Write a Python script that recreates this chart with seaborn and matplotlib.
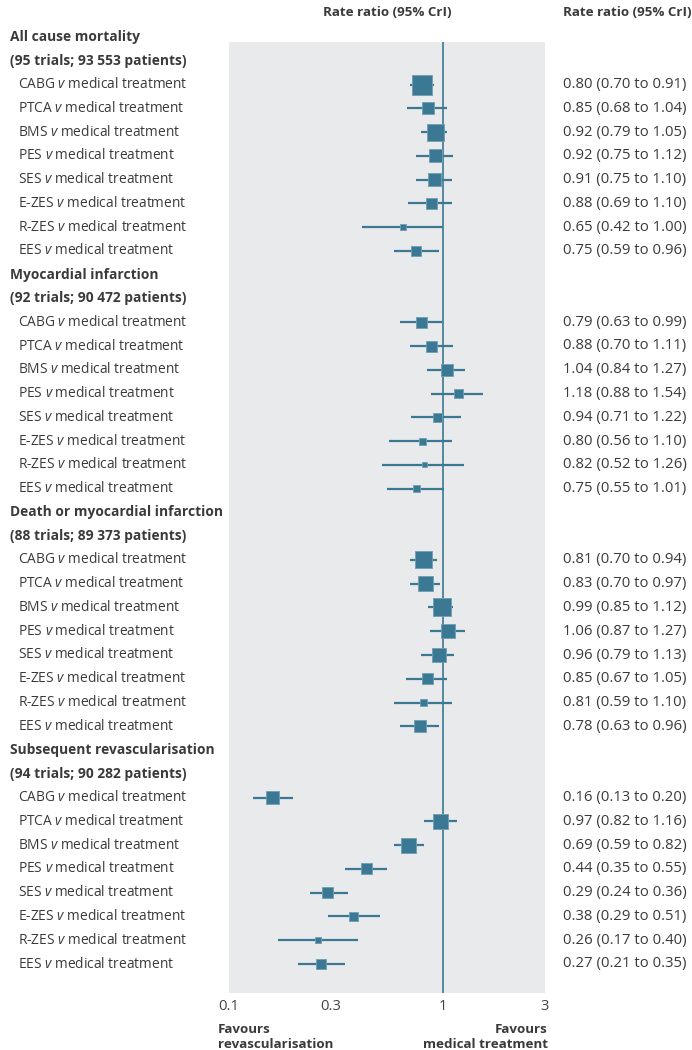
import numpy as np
import pandas as pd
import matplotlib
matplotlib.use('Agg')
import matplotlib.pyplot as plt
import matplotlib.transforms as mtransforms
import seaborn as sns

# ---- data ----
outcomes = ['All cause mortality', 'Myocardial infarction',
            'Death or myocardial infarction', 'Subsequent revascularisation']
outcome_n = ['(95 trials; 93 553 patients)', '(92 trials; 90 472 patients)',
             '(88 trials; 89 373 patients)', '(94 trials; 90 282 patients)']
comparisons = ['CABG', 'PTCA', 'BMS', 'PES', 'SES', 'E-ZES', 'R-ZES', 'EES']

rr_mort = [0.80, 0.85, 0.92, 0.92, 0.91, 0.88, 0.65, 0.75]
lo_mort = [0.70, 0.68, 0.79, 0.75, 0.75, 0.69, 0.42, 0.59]
hi_mort = [0.91, 1.04, 1.05, 1.12, 1.10, 1.10, 1.00, 0.96]

rr_mi = [0.79, 0.88, 1.04, 1.18, 0.94, 0.80, 0.82, 0.75]
lo_mi = [0.63, 0.70, 0.84, 0.88, 0.71, 0.56, 0.52, 0.55]
hi_mi = [0.99, 1.11, 1.27, 1.54, 1.22, 1.10, 1.26, 1.01]

rr_dmi = [0.81, 0.83, 0.99, 1.06, 0.96, 0.85, 0.81, 0.78]
lo_dmi = [0.70, 0.70, 0.85, 0.87, 0.79, 0.67, 0.59, 0.63]
hi_dmi = [0.94, 0.97, 1.12, 1.27, 1.13, 1.05, 1.10, 0.96]

rr_rev = [0.16, 0.97, 0.69, 0.44, 0.29, 0.38, 0.26, 0.27]
lo_rev = [0.13, 0.82, 0.59, 0.35, 0.24, 0.29, 0.17, 0.21]
hi_rev = [0.20, 1.16, 0.82, 0.55, 0.36, 0.51, 0.40, 0.35]

# relative weight of each estimate (box side)
w_mort = [20, 12, 17, 13, 13, 11, 6, 10]
w_mi = [11, 11, 12, 9, 9, 7, 5, 7]
w_dmi = [17, 15, 18, 14, 14, 11, 7, 12]
w_rev = [13, 15, 15, 11, 11, 9, 6, 10]

xticks = [0.1, 0.3, 1, 3]
xtick_labels = ['0.1', '0.3', '1', '3']

# ---- build table ----
rows = []
groups = [(rr_mort, lo_mort, hi_mort, w_mort), (rr_mi, lo_mi, hi_mi, w_mi),
          (rr_dmi, lo_dmi, hi_dmi, w_dmi), (rr_rev, lo_rev, hi_rev, w_rev)]
pos = 0
headers = []
for g, (rr, lo, hi, w) in enumerate(groups):
    headers.append((pos, outcomes[g]))
    headers.append((pos + 1, outcome_n[g]))
    pos += 2
    for i, c in enumerate(comparisons):
        rows.append(dict(row=pos, comp=c, rr=rr[i], lo=lo[i], hi=hi[i], w=w[i]))
        pos += 1
df = pd.DataFrame(rows)

# ---- style ----
sns.set_style('white')
plt.rcParams['font.family'] = ['Open Sans', 'DejaVu Sans']
plt.rcParams['mathtext.fontset'] = 'custom'
plt.rcParams['mathtext.rm'] = 'Open Sans'
plt.rcParams['mathtext.it'] = 'Open Sans:italic'

BLUE = '#3b7893'
TXT = '#3a3a3a'
FS = 9.9        # row labels / headers
FS_NUM = 10.7   # right-hand estimates
FS_TOP = 9.6    # column titles

W, H = 692, 1050
fig = plt.figure(figsize=(W / 100, H / 100), dpi=100)
ax = fig.add_axes([229 / W, 1 - 993 / H, (545 - 229) / W, (993 - 42) / H])
ax.set_facecolor('#e9eaec')
for s in ax.spines.values():
    s.set_visible(False)

row_px = (964 - 37) / 39
ax.set_xscale('log')
ax.set_xlim(0.1, 3)
ax.set_ylim((993 - 37) / row_px, (42 - 37) / row_px)

ax.axvline(1, color=BLUE, lw=1.2, zorder=1)
ax.hlines(df['row'], df['lo'], df['hi'], color=BLUE, lw=1.6, zorder=2)
sizes = {w: (w * 0.72) ** 2 for w in sorted(df['w'].unique())}
sns.scatterplot(data=df, x='rr', y='row', size='w', sizes=sizes, marker='s',
                color=BLUE, edgecolor='#6f9fb4', linewidth=0.6, legend=False,
                ax=ax, zorder=3)

ax.set_xticks(xticks)
ax.set_xticklabels(xtick_labels)
ax.xaxis.set_minor_locator(matplotlib.ticker.NullLocator())
ax.set_yticks([])
ax.set_xlabel('')
ax.set_ylabel('')
ax.tick_params(axis='x', direction='in', color='white', length=5, width=1.5,
               labelsize=FS_NUM, labelcolor='#444444', pad=4)

# ---- text columns ----
tr = mtransforms.blended_transform_factory(fig.transFigure, ax.transData)
for r, t in headers:
    ax.text(10 / W, r, t, transform=tr, ha='left', va='center', fontsize=FS,
            fontweight='bold', color=TXT, clip_on=False)
for _, d in df.iterrows():
    ax.text(18 / W, d['row'], d['comp'] + r' $v$ medical treatment', transform=tr,
            ha='left', va='center', fontsize=FS, color=TXT, clip_on=False)
    ax.text(563 / W, d['row'],
            f"{d['rr']:.2f} ({d['lo']:.2f} to {d['hi']:.2f})", transform=tr,
            ha='left', va='center', fontsize=FS_NUM, color=TXT, clip_on=False)

fig.text(387 / W, 1 - 12 / H, 'Rate ratio (95% CrI)', ha='center', va='center',
         fontsize=FS_TOP, fontweight='bold', color=TXT)
fig.text(563 / W, 1 - 12 / H, 'Rate ratio (95% CrI)', ha='left', va='center',
         fontsize=FS_TOP, fontweight='bold', color=TXT)
fig.text(218 / W, 1 - 1037 / H, 'Favours\nrevascularisation', ha='left',
         va='center', fontsize=FS_TOP, fontweight='bold', color=TXT,
         linespacing=1.15)
fig.text(548 / W, 1 - 1037 / H, 'Favours\nmedical treatment', ha='right',
         va='center', fontsize=FS_TOP, fontweight='bold', color=TXT,
         multialignment='right', linespacing=1.15)

fig.savefig('out.png', dpi=100)
